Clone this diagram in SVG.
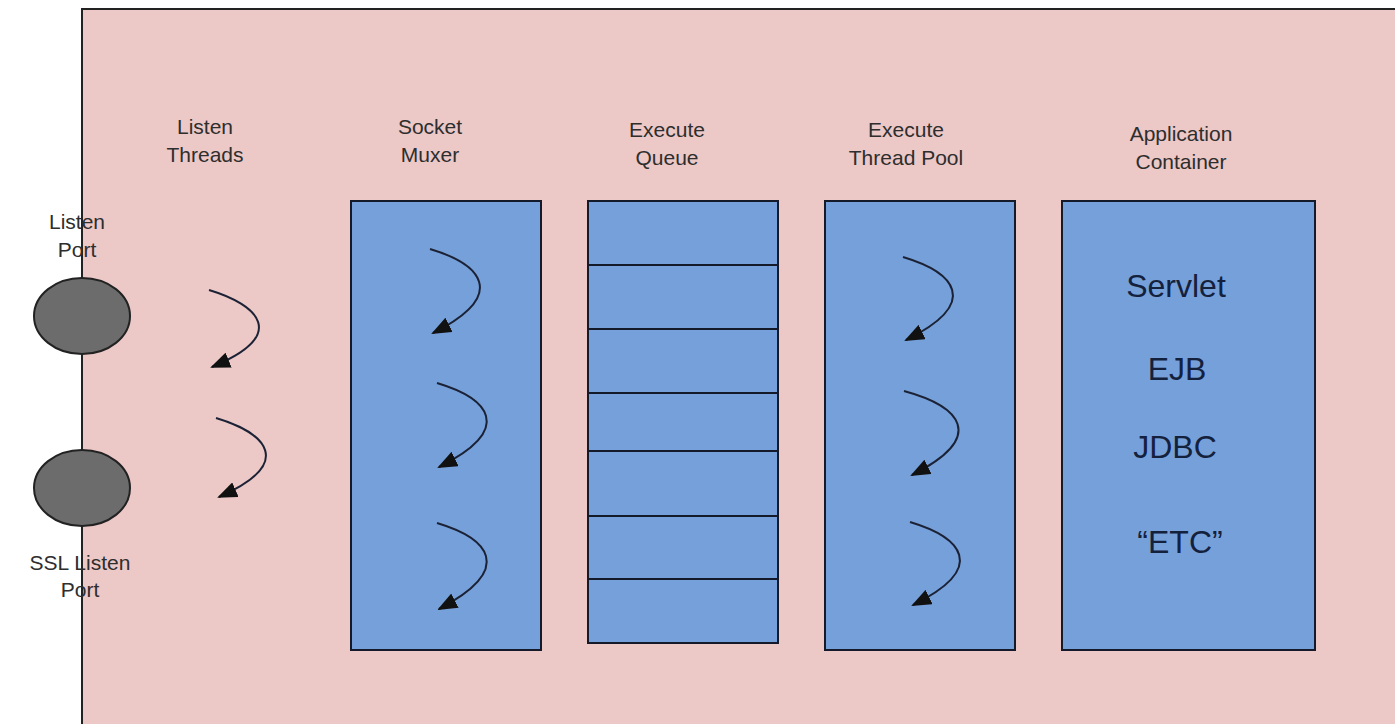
<svg xmlns="http://www.w3.org/2000/svg" width="1395" height="724" viewBox="0 0 1395 724">
  <defs>
    <marker id="head" markerUnits="userSpaceOnUse" markerWidth="20" markerHeight="16" refX="18" refY="8" orient="auto">
      <path d="M0,0 L20,8 L0,16 z" fill="#111"/>
    </marker>
    <style>
      .frame { fill: #ecc8c7; stroke: #222; stroke-width: 2; }
      .box { fill: #76a0d9; stroke: #141a2a; stroke-width: 2; }
      .row { stroke: #141a2a; stroke-width: 2; }
      .port { fill: #6c6c6c; stroke: #222; stroke-width: 2; }
      .turn { fill: none; stroke: #1b2236; stroke-width: 2; marker-end: url(#head); }
      .hdr { font-family: "Liberation Sans", Arial, sans-serif; font-size: 21px; fill: #2e2e2e; text-anchor: middle; }
      .item { font-family: "Liberation Sans", Arial, sans-serif; font-size: 32px; fill: #14213d; text-anchor: middle; }
    </style>
  </defs>

  <rect width="1395" height="724" fill="#ffffff"/>

  <!-- server frame -->
  <g id="server">
    <rect class="frame" x="82" y="9" width="1330" height="730"/>
  </g>

  <!-- column titles -->
  <g id="titles">
    <text class="hdr" x="205" y="134">Listen</text>
    <text class="hdr" x="205" y="162">Threads</text>
    <text class="hdr" x="430" y="134">Socket</text>
    <text class="hdr" x="430" y="162">Muxer</text>
    <text class="hdr" x="667" y="137">Execute</text>
    <text class="hdr" x="667" y="165">Queue</text>
    <text class="hdr" x="906" y="137">Execute</text>
    <text class="hdr" x="906" y="165">Thread Pool</text>
    <text class="hdr" x="1181" y="141">Application</text>
    <text class="hdr" x="1181" y="169">Container</text>
  </g>

  <!-- ports -->
  <g id="listen-port">
    <ellipse class="port" cx="82" cy="316" rx="48" ry="38"/>
    <text class="hdr" x="77" y="229">Listen</text>
    <text class="hdr" x="77" y="257">Port</text>
  </g>
  <g id="ssl-listen-port">
    <ellipse class="port" cx="82" cy="488" rx="48" ry="38"/>
    <text class="hdr" x="80" y="570">SSL Listen</text>
    <text class="hdr" x="80" y="597">Port</text>
  </g>

  <!-- socket muxer -->
  <g id="socket-muxer">
    <rect class="box" x="351" y="201" width="190" height="449"/>
  </g>

  <!-- execute queue -->
  <g id="execute-queue">
    <rect class="box" x="588" y="201" width="190" height="442"/>
    <line class="row" x1="588" y1="265" x2="778" y2="265"/>
    <line class="row" x1="588" y1="329" x2="778" y2="329"/>
    <line class="row" x1="588" y1="393" x2="778" y2="393"/>
    <line class="row" x1="588" y1="451" x2="778" y2="451"/>
    <line class="row" x1="588" y1="516" x2="778" y2="516"/>
    <line class="row" x1="588" y1="579" x2="778" y2="579"/>
  </g>

  <!-- execute thread pool -->
  <g id="thread-pool">
    <rect class="box" x="825" y="201" width="190" height="449"/>
  </g>

  <!-- application container -->
  <g id="app-container">
    <rect class="box" x="1062" y="201" width="253" height="449"/>
    <text class="item" x="1176" y="297">Servlet</text>
    <text class="item" x="1177" y="380">EJB</text>
    <text class="item" x="1175" y="458">JDBC</text>
    <text class="item" x="1180" y="553">“ETC”</text>
  </g>

  <!-- thread activity arrows -->
  <g id="connectors">
    <path class="turn" d="M209,290 c50,15 80,45 3,77"/>
    <path class="turn" d="M216,418 c50,15 80,45 3,79"/>
    <path class="turn" d="M430,249 c50,15 80,45 3,84"/>
    <path class="turn" d="M437,383 c50,15 80,45 2,84"/>
    <path class="turn" d="M437,523 c50,15 80,45 2,86"/>
    <path class="turn" d="M903,257 c50,15 80,45 3,83"/>
    <path class="turn" d="M904,391 c55,15 85,45 8,84"/>
    <path class="turn" d="M910,522 c50,15 80,45 3,83"/>
  </g>
</svg>
